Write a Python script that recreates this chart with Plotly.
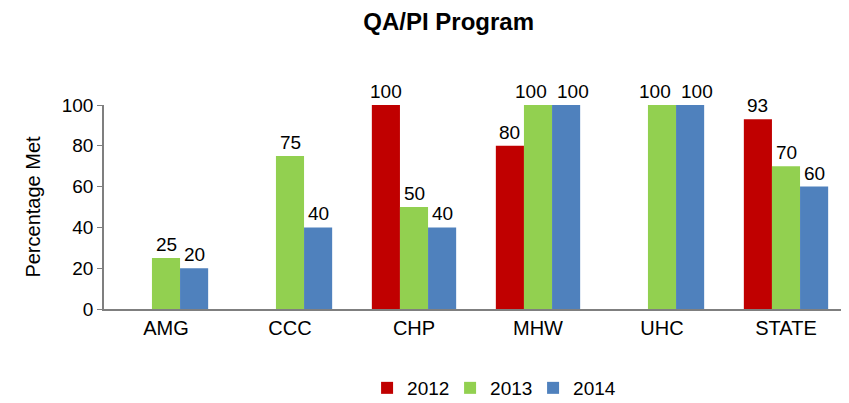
import plotly.graph_objects as go

categories = ["AMG", "CCC", "CHP", "MHW", "UHC", "STATE"]
v2012 = [None, None, 100, 80, None, 93]
v2013 = [25, 75, 50, 100, 100, 70]
v2014 = [20, 40, 40, 100, 100, 60]
years = ["2012", "2013", "2014"]
colors = ["#C00000", "#92D050", "#4F81BD"]

W, H = 841, 395
ML, MR, MT, MB = 96, 1, 97, 94
BARGAP = 0.32

fig = go.Figure()
series = [v2012, v2013, v2014]
for name, vals, c in zip(years, series, colors):
    fig.add_trace(go.Bar(
        x=categories, y=vals, name=name, marker_color=c, marker_line_width=0,
    ))

# data labels as annotations, nudged apart where two equal neighbours would collide
plot_w = W - ML - MR
bar_px = plot_w / len(categories) * (1 - BARGAP) / len(series)
for i, vals in enumerate(series):
    for j, v in enumerate(vals):
        if v is None:
            continue
        shift = (i - 1) * bar_px
        if i == 1 and series[2][j] == v:
            shift -= 7
        if i == 2 and series[1][j] == v:
            shift += 7
        fig.add_annotation(x=categories[j], y=v, text=str(v), showarrow=False,
                           xshift=shift, yanchor="bottom", yshift=1,
                           font=dict(size=19, color="#000000"))

fig.update_layout(
    width=W, height=H,
    margin=dict(l=ML, r=MR, t=MT, b=MB, autoexpand=False),
    paper_bgcolor="white", plot_bgcolor="white",
    font=dict(family="Liberation Sans, Arial, sans-serif", size=19, color="#000000"),
    title=dict(text="<b>QA/PI Program</b>", x=0.524, xanchor="center", xref="container",
               y=(H - 14) / H, yanchor="middle", yref="container",
               font=dict(size=24)),
    barmode="group", bargap=BARGAP, bargroupgap=0,
    showlegend=True,
    legend=dict(orientation="h", xref="container", x=0.575, xanchor="center",
                yref="container", y=(H - 380) / H, yanchor="middle",
                font=dict(size=19), itemwidth=30, traceorder="normal",
                entrywidth=38, entrywidthmode="pixels"),
)
fig.update_yaxes(range=[0, 100], dtick=20, showgrid=False, showline=True, linecolor="#7F7F7F",
                 linewidth=1.5, ticks="outside", ticklen=5, tickcolor="#7F7F7F", automargin=False,
                 title=dict(text="Percentage Met", font=dict(size=20), standoff=16), zeroline=False)
fig.update_xaxes(showline=True, linecolor="#7F7F7F", linewidth=1.5, ticks="", showgrid=False,
                 automargin=False, tickfont=dict(size=20))

fig.write_html("out.html")
